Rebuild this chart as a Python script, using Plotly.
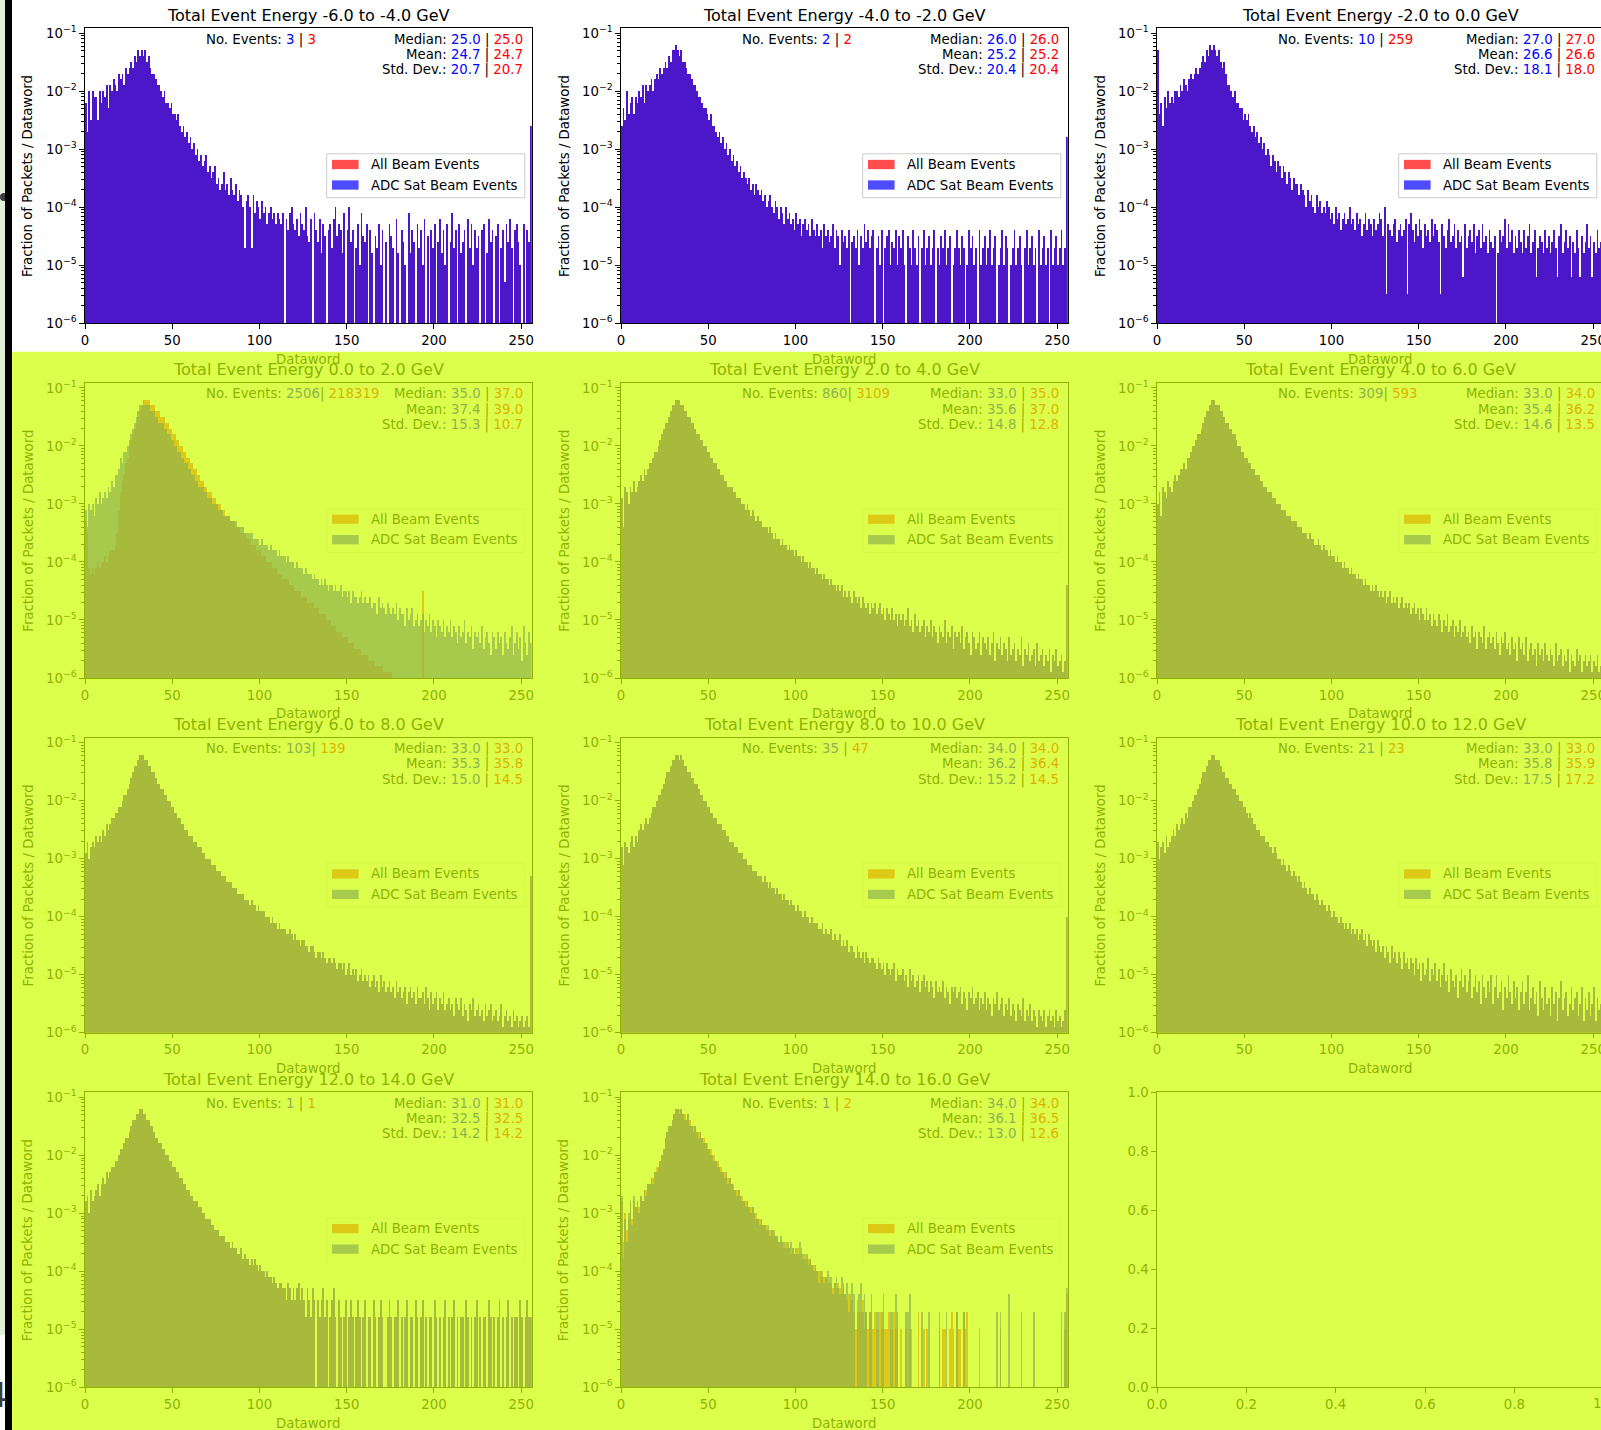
import plotly.graph_objects as go

W, H = 1601, 1430
FONT = "DejaVu Sans"

dataword_bins = list(range(256))

titles = ["Total Event Energy -6.0 to -4.0 GeV", "Total Event Energy -4.0 to -2.0 GeV",
          "Total Event Energy -2.0 to 0.0 GeV", "Total Event Energy 0.0 to 2.0 GeV",
          "Total Event Energy 2.0 to 4.0 GeV", "Total Event Energy 4.0 to 6.0 GeV",
          "Total Event Energy 6.0 to 8.0 GeV", "Total Event Energy 8.0 to 10.0 GeV",
          "Total Event Energy 10.0 to 12.0 GeV", "Total Event Energy 12.0 to 14.0 GeV",
          "Total Event Energy 14.0 to 16.0 GeV"]
n_events_adc = ["3", "2", "10", "2506", "860", "309", "103", "35", "21", "1", "1"]
n_events_all = ["3", "2", "259", "218319", "3109", "593", "139", "47", "23", "1", "2"]
median_adc = [25.0, 26.0, 27.0, 35.0, 33.0, 33.0, 33.0, 34.0, 33.0, 31.0, 34.0]
median_all = [25.0, 26.0, 27.0, 37.0, 35.0, 34.0, 33.0, 34.0, 33.0, 31.0, 34.0]
mean_adc = [24.7, 25.2, 26.6, 37.4, 35.6, 35.4, 35.3, 36.2, 35.8, 32.5, 36.1]
mean_all = [24.7, 25.2, 26.6, 39.0, 37.0, 36.2, 35.8, 36.4, 35.9, 32.5, 36.5]
std_adc = [20.7, 20.4, 18.1, 15.3, 14.8, 14.6, 15.0, 15.2, 17.5, 14.2, 13.0]
std_all = [20.7, 20.4, 18.0, 10.7, 12.8, 13.5, 14.5, 14.5, 17.2, 14.2, 12.6]
legend_labels = ["All Beam Events", "ADC Sat Beam Events"]
x_ticks = [0, 50, 100, 150, 200, 250]
y_decades = [-6, -5, -4, -3, -2, -1]

# Bar heights, stored as 10*log10(fraction of packets / dataword); None = empty bin
h_m6_m4 = [
 -22,-27,-20,-25,-20,-21,-21,-25,-20,-22,-20,-21,-19,-23,-19,-20,
 -18,-19,-20,-17,-18,-17,-19,-16,-17,-16,-15,-16,-14,-15,-13,-14,
 -13,-14,-13,-15,-14,-16,-17,-17,-18,-19,-19,-20,-21,-20,-22,-22,
 -23,-22,-24,-24,-25,-24,-26,-27,-26,-28,-27,-29,-28,-30,-29,-31,
 -30,-32,-31,-33,-32,-31,-34,-33,-35,-34,-33,-36,-35,-37,-36,-34,
 -37,-36,-38,-35,-37,-38,-36,-39,-37,-38,-40,-47,-39,-38,-40,-47,
 -38,-41,-39,-40,-42,-39,-41,-40,-43,-41,-40,-42,-41,-43,-41,-42,
 -43,-41,None,-42,-44,-41,-40,-43,-44,-42,-45,-41,-43,-44,-40,-45,
 -46,-42,None,-41,-44,-46,-42,-48,-43,-45,None,-44,-43,-47,-42,-40,
 -45,-43,-44,-48,-41,None,-44,-40,-46,-44,None,-47,-43,-50,-41,-45,
 -46,-43,None,-44,-48,None,-45,-47,-43,-50,-44,None,-46,None,-43,-45,
 -47,None,-42,-48,None,-44,-46,-50,None,-41,-48,-44,-46,None,-43,-47,
 -44,-50,-42,None,-45,None,-44,-47,-43,None,-46,-42,-48,-44,-50,-43,
 None,-46,-41,-47,-44,None,-43,-48,-46,-44,None,-42,-47,-43,-50,-44,
 -47,-45,None,-44,-43,None,-48,-42,-46,-44,None,-45,-43,None,-47,-44,
 -53,-43,-46,-42,-47,None,-44,-43,-46,-50,None,-43,None,-44,-46,-26]

h_m4_m2 = [
 -26,-23,-25,-20,-24,-22,-21,-24,-21,-22,-20,-21,-19,-22,-19,-20,
 -19,-18,-20,-18,-17,-18,-16,-17,-16,-15,-16,-14,-15,-13,-13,-12,
 -13,-14,-13,-15,-15,-16,-17,-17,-18,-19,-19,-20,-21,-21,-22,-23,
 -23,-24,-25,-24,-26,-26,-27,-28,-27,-29,-28,-30,-29,-31,-30,-32,
 -31,-33,-32,-34,-33,-35,-34,-35,-36,-35,-37,-36,-38,-36,-37,-38,
 -37,-39,-38,-40,-39,-38,-40,-41,-39,-40,-42,-40,-41,-43,-40,-42,
 -41,-43,-42,-44,-41,-43,-42,-45,-43,-42,-44,-43,-45,-42,-44,-45,
 -43,-45,-44,-47,-43,-45,-44,-46,-45,-43,-47,-44,-45,-50,-44,-46,
 -45,-47,-44,None,-46,-45,-47,-44,-50,-45,-47,-43,-46,-44,-47,-45,
 -44,None,-47,-45,-50,-44,None,-47,-45,-44,-50,-46,-47,-44,-50,-45,
 -47,-44,-50,None,-45,-47,-50,-44,-47,-50,-45,None,-47,-44,-50,-47,
 -45,-50,-47,-44,None,-47,-50,-45,-47,-44,-50,-47,-45,None,-50,-47,
 -44,-47,-50,-45,-47,None,-50,-44,-47,-45,-50,-47,None,-44,-50,-47,
 -45,-50,-47,-44,-50,-47,-45,None,-50,-47,-44,-50,-45,-47,None,-50,
 -47,-44,-50,-47,-45,-50,None,-47,-44,-50,-47,-45,-50,-47,None,-44,
 -50,-47,-45,-50,-47,None,-44,-50,-47,-45,-50,-47,-44,-50,-47,-28]

h_m2_0 = [
 -13,-24,-22,-26,-21,-23,-20,-22,-21,-22,-20,-20,-21,-19,-20,-18,
 -19,-20,-18,-17,-18,-17,-16,-17,-16,-15,-14,-15,-13,-14,-12,-13,
 -12,-13,-14,-13,-15,-16,-15,-17,-19,-19,-20,-21,-20,-22,-22,-23,
 -23,-25,-24,-25,-24,-26,-27,-26,-28,-27,-29,-28,-30,-29,-31,-30,
 -31,-33,-31,-32,-34,-32,-33,-35,-33,-34,-36,-34,-35,-37,-35,-36,
 -36,-38,-36,-37,-38,-40,-37,-39,-38,-40,-41,-38,-40,-39,-41,-40,
 -41,-39,-40,-42,-41,-43,-40,-42,-41,-44,-42,-41,-43,-42,-40,-43,
 -42,-44,-41,-43,-42,-45,-43,-41,-44,-42,-43,-45,-42,-44,-43,-41,
 -42,-45,-40,-55,-43,-44,-45,-43,-42,-46,-44,-43,-45,-44,-42,-55,
 -43,-41,-44,-46,-43,-45,-42,-44,-47,-43,-45,-44,-46,-42,-45,-43,
 -44,-46,-55,-43,-45,-47,-44,-42,-46,-45,-43,-47,-44,-46,-45,-52,
 -43,-47,-45,-44,-46,-43,-48,-45,-44,-47,-43,-46,-45,-48,-44,-46,
 -47,-45,None,-48,-44,-46,-45,-42,-47,-43,-46,-44,-48,-45,-47,-44,
 -46,-48,-44,-47,-45,-43,-48,-46,-44,-52,-47,-45,-46,-48,-44,-47,
 -45,-48,-46,-44,-47,-52,-45,-43,-48,-46,-44,-47,-45,-52,-46,-48,
 -44,-47,-52,-45,-48,-46,-43,-47,-45,-52,-46,-48,-44,-47,-46,-45]

h_0_2_all = [
 -33,-35,-41,-42,-41,-42,-41,-40,-41,-40,-40,-39,-40,-39,-38,-38,
 -38,-37,-35,-31,-28,-26,-25,-23,-22,-20,-19,-18,-17,-16,-15,-14,
 -13,-13,-12,-12,-12,-13,-13,-13,-14,-14,-14,-15,-15,-15,-16,-16,
 -17,-17,-18,-18,-19,-19,-20,-20,-21,-21,-22,-22,-23,-23,-24,-24,
 -25,-25,-26,-26,-27,-27,-28,-28,-28,-29,-29,-30,-30,-30,-31,-31,
 -32,-32,-32,-33,-33,-33,-34,-34,-34,-35,-35,-35,-36,-36,-36,-37,
 -37,-37,-38,-38,-38,-39,-39,-39,-40,-40,-40,-41,-41,-41,-42,-42,
 -42,-43,-43,-43,-43,-44,-44,-44,-45,-45,-45,-45,-46,-46,-46,-47,
 -47,-47,-47,-48,-48,-48,-49,-49,-49,-49,-50,-50,-50,-51,-51,-51,
 -52,-52,-52,-53,-53,-53,-53,-54,-54,-54,-55,-55,-55,-55,-56,-56,
 -56,-56,-57,-57,-57,-57,-58,-58,-58,-58,-58,-59,-59,-59,-59,-59,
 None,None,None,None,None,None,None,None,None,None,None,None,None,None,None,None,
 None,-45,None,None,None,None,None,None,None,None,None,None,None,None,None,None,
 None,None,None,None,None,None,None,None,None,None,None,None,None,None,None,None,
 None,None,None,None,None,None,None,None,None,None,None,None,None,None,None,None,
 None,None,None,None,None,None,None,None,None,None,None,None,None,None,None,None]

h_0_2_adc = [
 -31,-34,-30,-31,-30,-32,-29,-30,-28,-30,-29,-28,-29,-27,-28,-26,
 -27,-25,-25,-24,-22,-23,-21,-21,-20,-19,-18,-17,-16,-15,-14,-13,
 -13,-12,-13,-13,-13,-14,-14,-14,-15,-15,-16,-16,-16,-17,-17,-18,
 -18,-19,-19,-20,-20,-21,-21,-22,-22,-23,-23,-24,-24,-25,-25,-26,
 -26,-27,-27,-27,-28,-28,-29,-29,-29,-30,-30,-30,-31,-31,-31,-32,
 -32,-32,-32,-33,-33,-33,-33,-34,-34,-34,-34,-35,-35,-35,-35,-35,
 -36,-36,-36,-36,-37,-36,-37,-37,-37,-38,-37,-38,-38,-38,-39,-38,
 -39,-39,-39,-40,-39,-40,-40,-40,-41,-40,-41,-41,-41,-42,-41,-42,
 -42,-42,-43,-42,-43,-43,-44,-43,-44,-43,-44,-45,-44,-44,-45,-44,
 -45,-45,-44,-46,-45,-45,-46,-45,-47,-45,-46,-46,-47,-46,-45,-47,
 -46,-47,-47,-46,-48,-47,-47,-49,-46,-48,-47,-48,-49,-47,-48,-49,
 -48,-49,-47,-50,-48,-49,-49,-51,-48,-50,-49,-48,-51,-50,-49,-51,
 -50,-49,-52,-50,-51,-49,-52,-50,-51,-53,-50,-51,-52,-50,-53,-51,
 -52,-50,-53,-51,-52,-54,-51,-53,-52,-50,-54,-52,-53,-51,-55,-52,
 -53,-52,-54,-51,-55,-53,-52,-54,-56,-52,-53,-55,-52,-54,-53,-56,
 -52,-54,-55,-53,-51,-56,-54,-52,-55,-53,-57,-51,-54,-56,-52,-54]

h_2_4 = [
 -29,-34,-27,-28,-30,-27,-28,-26,-28,-27,-26,-25,-26,-24,-25,-24,
 -23,-23,-22,-21,-21,-20,-19,-18,-17,-16,-16,-15,-14,-13,-13,-12,
 -12,-12,-13,-13,-14,-14,-15,-15,-16,-16,-17,-18,-18,-19,-19,-20,
 -20,-21,-21,-22,-22,-23,-23,-24,-24,-25,-25,-26,-26,-27,-27,-27,
 -28,-28,-29,-29,-29,-30,-30,-31,-30,-31,-32,-31,-32,-33,-32,-33,
 -33,-34,-34,-34,-35,-34,-35,-36,-35,-36,-36,-37,-36,-37,-37,-38,
 -37,-38,-38,-39,-38,-39,-39,-40,-39,-40,-40,-41,-40,-41,-41,-42,
 -41,-42,-42,-43,-42,-43,-43,-44,-43,-44,-44,-45,-44,-45,-44,-46,
 -45,-46,-45,-46,-47,-45,-46,-47,-46,-48,-46,-47,-48,-47,-49,-47,
 -48,-47,-49,-48,-47,-49,-48,-50,-48,-49,-50,-48,-50,-49,-51,-49,
 -50,-49,-51,-50,-48,-51,-50,-52,-49,-51,-50,-52,-51,-50,-53,-51,
 -52,-50,-53,-51,-52,-54,-51,-52,-53,-50,-54,-52,-53,-51,-55,-52,
 -53,-52,-54,-51,-55,-53,-52,-54,-56,-52,-53,-55,-54,-52,-56,-53,
 -54,-55,-53,-56,-54,-52,-57,-54,-55,-53,-56,-54,-55,-57,-53,-56,
 -55,-54,-57,-55,-56,-53,-58,-55,-56,-54,-57,-56,-55,-58,-54,-57,
 -56,-55,-58,-56,-57,-55,-59,-56,-57,-55,-58,-57,-56,-59,-57,-44]

h_4_6 = [
 -30,-28,-32,-27,-28,-29,-26,-27,-28,-26,-25,-26,-25,-24,-24,-23,
 -24,-22,-22,-21,-20,-20,-19,-18,-18,-17,-16,-15,-14,-14,-13,-12,
 -12,-13,-13,-13,-14,-14,-15,-16,-16,-17,-17,-18,-18,-19,-20,-20,
 -21,-21,-22,-22,-23,-23,-24,-24,-25,-25,-25,-26,-26,-27,-27,-28,
 -28,-28,-29,-29,-30,-30,-30,-31,-31,-31,-32,-32,-32,-33,-33,-33,
 -34,-34,-34,-35,-35,-35,-36,-35,-36,-36,-37,-37,-36,-37,-38,-37,
 -38,-38,-39,-38,-39,-39,-40,-39,-40,-40,-41,-40,-41,-41,-42,-41,
 -42,-42,-43,-42,-43,-43,-44,-43,-44,-44,-45,-44,-45,-44,-45,-46,
 -45,-46,-45,-47,-46,-45,-47,-46,-47,-46,-48,-47,-46,-48,-47,-48,
 -47,-49,-48,-47,-49,-48,-50,-48,-49,-50,-48,-50,-49,-51,-49,-50,
 -51,-49,-50,-52,-50,-51,-49,-52,-51,-50,-53,-51,-52,-50,-53,-52,
 -51,-53,-52,-54,-51,-53,-52,-55,-52,-53,-54,-51,-55,-53,-52,-54,
 -53,-55,-52,-54,-56,-53,-54,-52,-55,-54,-56,-53,-55,-54,-57,-53,
 -55,-54,-56,-53,-57,-55,-54,-56,-55,-58,-54,-56,-55,-57,-54,-56,
 -57,-55,-56,-58,-54,-57,-56,-55,-58,-56,-57,-55,-59,-56,-57,-58,
 -55,-57,-56,-59,-57,-56,-58,-57,-56,-59,-57,-58,-56,-59,-58,-57]

h_6_8 = [
 -29,-27,-30,-28,-27,-28,-26,-27,-26,-27,-25,-26,-24,-25,-24,-23,
 -23,-22,-22,-21,-21,-20,-19,-19,-18,-17,-16,-15,-14,-14,-13,-12,
 -12,-12,-13,-13,-14,-14,-15,-15,-16,-17,-17,-18,-18,-19,-19,-20,
 -20,-21,-21,-22,-22,-23,-23,-24,-24,-25,-25,-26,-26,-26,-27,-27,
 -28,-28,-28,-29,-29,-30,-30,-30,-31,-31,-31,-32,-32,-32,-33,-33,
 -33,-34,-34,-34,-35,-35,-35,-36,-36,-36,-36,-37,-37,-37,-38,-37,
 -38,-38,-39,-38,-39,-39,-39,-40,-40,-40,-41,-40,-41,-41,-42,-41,
 -42,-42,-42,-43,-43,-42,-43,-44,-43,-44,-44,-45,-44,-44,-45,-45,
 -46,-45,-45,-46,-47,-46,-46,-47,-46,-47,-48,-47,-47,-48,-47,-48,
 -49,-48,-48,-49,-48,-50,-49,-48,-50,-49,-50,-49,-51,-50,-49,-51,
 -50,-51,-50,-52,-51,-50,-52,-51,-53,-50,-52,-51,-53,-52,-51,-53,
 -52,-54,-51,-53,-52,-54,-53,-52,-55,-53,-52,-54,-53,-55,-52,-54,
 -54,-53,-55,-52,-54,-56,-53,-55,-54,-53,-56,-54,-55,-53,-56,-55,
 -54,-56,-55,-57,-54,-55,-56,-54,-57,-55,-56,-58,-55,-56,-54,-57,
 -56,-55,-57,-56,-58,-55,-57,-56,-55,-58,-57,-56,-58,-57,-55,-59,
 -57,-56,-58,-57,-59,-56,-58,-57,-59,-58,-57,-59,-58,-57,-59,-33]

h_8_10 = [
 -28,-31,-27,-28,-29,-27,-26,-28,-26,-27,-25,-24,-25,-24,-23,-24,
 -23,-22,-21,-21,-20,-19,-19,-18,-17,-16,-15,-15,-14,-13,-13,-12,
 -12,-13,-12,-13,-14,-14,-15,-15,-16,-16,-17,-17,-18,-19,-19,-20,
 -20,-21,-21,-22,-22,-23,-23,-24,-24,-24,-25,-25,-26,-26,-27,-27,
 -27,-28,-28,-29,-29,-29,-30,-30,-31,-31,-31,-32,-32,-32,-33,-33,
 -33,-34,-33,-34,-35,-34,-35,-35,-36,-35,-36,-36,-37,-36,-37,-37,
 -38,-37,-38,-38,-39,-38,-39,-39,-40,-39,-40,-40,-41,-40,-41,-41,
 -41,-42,-42,-41,-43,-42,-43,-43,-42,-44,-43,-44,-44,-43,-45,-44,
 -45,-44,-46,-45,-45,-46,-47,-45,-46,-47,-46,-48,-46,-47,-48,-47,
 -47,-48,-49,-47,-48,-49,-48,-50,-48,-49,-50,-49,-48,-51,-49,-50,
 -50,-49,-51,-50,-52,-49,-51,-50,-52,-51,-50,-53,-51,-50,-52,-51,
 -53,-51,-52,-54,-51,-53,-52,-53,-51,-54,-52,-53,-55,-52,-53,-52,
 -54,-53,-52,-55,-53,-54,-56,-53,-54,-52,-55,-54,-53,-56,-54,-55,
 -53,-56,-54,-55,-57,-54,-55,-53,-56,-55,-54,-57,-55,-56,-54,-57,
 -55,-56,-58,-55,-56,-57,-54,-58,-56,-57,-55,-58,-56,-57,-59,-56,
 -57,-58,-56,-59,-57,-56,-58,-57,-59,-56,-58,-57,-59,-58,-56,-40]

h_10_12 = [
 -27,-30,-28,-27,-29,-26,-28,-27,-26,-25,-26,-24,-25,-24,-23,-24,
 -22,-23,-21,-21,-20,-19,-19,-18,-17,-16,-15,-15,-14,-13,-13,-12,
 -12,-13,-13,-13,-14,-15,-15,-16,-16,-17,-17,-18,-18,-19,-19,-20,
 -20,-21,-21,-22,-23,-22,-23,-24,-24,-25,-25,-26,-26,-26,-27,-27,
 -28,-28,-29,-28,-29,-30,-30,-31,-30,-31,-32,-31,-32,-33,-32,-33,
 -34,-33,-34,-35,-34,-35,-36,-35,-36,-36,-37,-36,-37,-38,-37,-38,
 -38,-39,-38,-39,-40,-39,-40,-40,-41,-40,-41,-42,-41,-42,-41,-43,
 -42,-43,-42,-44,-43,-42,-44,-43,-45,-43,-44,-45,-44,-46,-44,-45,
 -46,-45,-47,-45,-46,-48,-45,-47,-46,-48,-46,-47,-49,-46,-48,-47,
 -49,-47,-48,-50,-47,-49,-48,-51,-48,-50,-49,-47,-51,-49,-50,-48,
 -51,-49,-52,-50,-48,-51,-50,-53,-49,-51,-52,-50,-54,-51,-49,-52,
 -50,-53,-51,-49,-54,-52,-50,-53,-51,-55,-50,-52,-54,-51,-53,-50,
 -55,-52,-50,-54,-53,-51,-56,-52,-54,-50,-53,-55,-51,-54,-52,-56,
 -53,-51,-55,-53,-50,-56,-54,-52,-55,-53,-57,-51,-54,-56,-52,-55,
 -54,-57,-52,-55,-53,-58,-54,-51,-56,-54,-53,-57,-55,-52,-56,-54,
 -53,-57,-55,-52,-58,-54,-56,-53,-57,-55,-52,-58,-54,-56,-55,-50]

h_12_14 = [
 -28,-27,-30,-26,-28,-27,-26,-25,-27,-25,-24,-25,-23,-24,-23,-22,
 -22,-21,-21,-20,-19,-19,-18,-17,-17,-16,-15,-14,-14,-13,-13,-12,
 -12,-13,-13,-14,-14,-15,-15,-16,-17,-17,-18,-18,-19,-19,-20,-20,
 -21,-21,-22,-22,-23,-23,-24,-24,-25,-25,-26,-26,-27,-27,-28,-28,
 -28,-29,-29,-30,-30,-31,-31,-31,-32,-32,-33,-33,-33,-34,-34,-34,
 -35,-35,-35,-36,-35,-36,-36,-37,-37,-36,-38,-37,-38,-38,-39,-38,
 -39,-38,-39,-40,-39,-40,-40,-41,-40,-41,-41,-42,-41,-42,-43,-42,
 -42,-43,-43,-45,-42,-43,-45,-43,-45,-43,-42,-45,-43,-45,-48,-43,
 -45,-48,-43,-45,None,-45,-48,-45,-43,-48,-45,None,-48,-45,-43,-48,
 None,-45,-48,None,-48,-45,None,-48,-45,-48,None,-48,-45,-48,None,-48,
 -45,None,-48,-48,None,-45,-48,None,-48,-45,-48,None,None,-48,-45,-48,
 None,-48,-48,-45,None,-48,None,-48,-45,None,-48,-48,None,-45,-48,None,
 -48,-45,None,-48,None,-48,-48,None,-45,-48,None,-48,None,-48,-45,None,
 -48,None,-48,-45,None,-48,None,-48,-48,None,-45,-48,None,-48,None,-48,
 -45,None,-48,None,-48,-48,None,-45,-48,None,-48,None,-48,-45,None,-48,
 None,-48,-45,None,-48,None,-48,-48,None,-45,-48,None,-48,-45,-48,-48]

h_14_16_all = [
 -28,-35,-30,-33,-31,-28,-31,-28,-29,-28,-29,-27,-28,-26,-26,-25,
 -25,-24,-24,-23,-22,-22,-21,-20,-19,-17,-16,-15,-15,-14,-13,-12,
 -12,-12,-12,-13,-13,-14,-13,-14,-15,-15,-15,-16,-16,-16,-17,-17,
 -18,-18,-19,-19,-20,-20,-21,-21,-22,-22,-23,-23,-23,-24,-24,-25,
 -25,-26,-26,-26,-27,-27,-28,-28,-28,-29,-29,-29,-30,-30,-31,-31,
 -31,-32,-32,-32,-33,-33,-33,-34,-34,-34,-35,-35,-35,-36,-35,-36,
 -36,-37,-36,-37,-37,-36,-37,-37,-38,-37,-38,-38,-38,-39,-39,-39,
 -40,-40,-41,-40,-41,-41,-42,-41,-42,-43,-42,-43,-42,-43,-44,-43,
 -44,-45,-44,-45,-45,-47,-50,-45,-47,-47,-45,-50,-47,-50,-47,-47,
 -50,-47,-50,-50,-47,-50,-47,-50,-50,-47,-50,-50,-47,-50,-47,None,
 -50,None,None,-50,None,-50,-50,None,None,None,-47,None,None,-50,None,-50,
 None,None,None,None,None,None,-50,None,-50,-50,None,None,-50,-47,-50,None,
 -47,-50,-50,None,-47,-50,-47,None,None,None,None,None,None,-50,None,None,
 None,None,None,None,None,None,None,None,None,-50,None,None,None,None,None,None,
 None,None,None,None,None,None,None,None,None,None,None,None,None,None,None,None,
 None,None,None,None,None,None,None,None,None,None,None,None,None,None,-50,-44]

h_14_16_adc = [
 -27,-38,-31,-35,-30,-28,-32,-27,-29,-28,-30,-27,-28,-26,-27,-25,
 -25,-24,-25,-23,-23,-22,-21,-20,-19,-17,-16,-15,-15,-14,-13,-12,
 -12,-13,-12,-13,-14,-14,-13,-15,-15,-16,-15,-16,-17,-16,-17,-18,
 -18,-19,-19,-20,-20,-21,-21,-22,-22,-23,-23,-24,-23,-25,-24,-25,
 -26,-26,-27,-26,-27,-28,-28,-29,-28,-29,-30,-29,-30,-31,-31,-32,
 -31,-32,-32,-33,-32,-34,-33,-33,-34,-34,-35,-34,-35,-35,-36,-35,
 -36,-35,-36,-37,-36,-37,-35,-36,-37,-38,-37,-39,-38,-39,-40,-39,
 -40,-42,-40,-41,-42,-41,-40,-42,-41,-44,-42,-41,-43,-44,-41,-42,
 -44,-42,-47,-44,-42,-44,None,-47,-44,-42,-47,-44,-47,None,-47,-44,
 None,None,-47,-47,None,-47,-44,None,None,None,-47,-47,None,-44,-47,None,
 None,None,None,-47,-47,-44,None,None,None,None,None,None,-47,None,None,None,
 -47,None,None,None,None,None,-47,None,None,None,-47,None,None,None,None,None,
 -47,None,None,None,-47,None,None,None,None,None,None,None,None,None,None,None,
 None,None,None,None,None,None,None,-47,None,-47,None,None,None,None,-44,None,
 None,None,None,None,None,-47,None,None,None,None,None,None,-47,None,None,None,
 None,None,None,None,None,None,None,None,None,None,None,None,-47,None,-47,-43]

# (All Beam Events, ADC Sat Beam Events) per panel
panel_all = [h_m6_m4, h_m4_m2, h_m2_0, h_0_2_all, h_2_4, h_4_6, h_6_8, h_8_10, h_10_12, h_12_14, h_14_16_all]
panel_adc = [h_m6_m4, h_m4_m2, h_m2_0, h_0_2_adc, h_2_4, h_4_6, h_6_8, h_8_10, h_10_12, h_12_14, h_14_16_adc]

# ---------------- layout geometry (pixels) ----------------
COL_L = [85.0, 621.0, 1157.0]
ROW_T = [28.3, 383.0, 737.7, 1092.4]
AX_W, AX_H = 446.7, 295.0
YTOP = -0.915
OVER_Y = 351.7


def P(x):
    return x / W


def Q(y):
    return 1 - y / H


def frac(v):
    return None if v is None else 10 ** (v / 10.0)


TOP = dict(txt="#000000", blue="#0000ff", red="#ff0000", bar_all="rgba(255,0,0,0.7)",
           bar_adc="rgba(0,0,255,0.7)", p_all="rgb(255,77,77)", p_adc="rgb(77,77,255)",
           lfill="rgba(255,255,255,0.8)", ledge="#cccccc")
OVR = dict(txt="rgb(143,178,0)", blue="rgb(143,178,77)", red="rgb(220,178,0)",
           bar_all="rgba(220,179,0,0.7)", bar_adc="rgba(144,179,77,0.7)",
           p_all="rgb(220,202,23)", p_adc="rgb(167,202,77)",
           lfill="rgba(220,255,76,0.8)", ledge="rgb(212,245,70)")

fig = go.Figure()
shapes = []
annotations = []
layout_axes = {}

# background pieces (left edge of the screenshot and the yellow highlight)
shapes.append(dict(type="rect", xref="paper", yref="paper", x0=0, x1=P(5), y0=Q(1335), y1=1,
                   fillcolor="#e2efda", line=dict(width=0), layer="below"))
shapes.append(dict(type="rect", xref="paper", yref="paper", x0=P(12), x1=1, y0=0, y1=Q(OVER_Y),
                   fillcolor="rgb(220,255,76)", line=dict(width=0), layer="below"))
shapes.append(dict(type="circle", xref="paper", yref="paper", x0=P(0), x1=P(8), y0=Q(201), y1=Q(193),
                   fillcolor="#3a3a3a", line=dict(width=0), layer="below"))
annotations.append(dict(text="4", x=P(10), y=Q(1395), xref="paper", yref="paper", xanchor="right",
                        yanchor="middle", showarrow=False, font=dict(family=FONT, size=34, color="#3c3c3c")))
shapes.append(dict(type="rect", xref="paper", yref="paper", x0=P(5), x1=P(12), y0=0, y1=1,
                   fillcolor="#000000", line=dict(width=0), layer="above"))

minor_vals = [m * 10 ** e for e in range(-6, -1) for m in range(2, 10)]

for k in range(12):
    r, c = divmod(k, 3)
    L, T = COL_L[c], ROW_T[r]
    sty = TOP if r == 0 else OVR
    sfx = "" if k == 0 else str(k + 1)
    xr = min(L + AX_W, W)
    vis = (xr - L) / AX_W
    empty = (k == 11)
    xa = dict(domain=[P(L), P(xr)], anchor="y" + sfx, showgrid=False, zeroline=False,
              showline=True, linecolor=sty["txt"], linewidth=1, mirror=True,
              ticks="outside", ticklen=4.7, tickwidth=1, tickcolor=sty["txt"], automargin=False,
              tickfont=dict(family=FONT, size=13.3, color=sty["txt"]), ticklabeloverflow="allow")
    ya = dict(domain=[Q(T + AX_H), Q(T)], anchor="x" + sfx, showgrid=False, zeroline=False,
              showline=True, linecolor=sty["txt"], linewidth=1, mirror=(c != 2),
              ticks="outside", ticklen=4.7, tickwidth=1, tickcolor=sty["txt"], automargin=False,
              tickfont=dict(family=FONT, size=13.3, color=sty["txt"]))
    if empty:
        xa.update(range=[0, 1.0 * vis], tickmode="array", tickvals=[0, 0.2, 0.4, 0.6, 0.8],
                  ticktext=["0.0", "0.2", "0.4", "0.6", "0.8"])
        ya.update(range=[0, 1], tickmode="array", tickvals=[0, 0.2, 0.4, 0.6, 0.8, 1.0],
                  ticktext=["0.0", "0.2", "0.4", "0.6", "0.8", "1.0"])
        annotations.append(dict(text="1.0", x=P(L + AX_W), y=Q(T + AX_H + 16), xref="paper", yref="paper",
                                xanchor="center", yanchor="middle", showarrow=False,
                                font=dict(family=FONT, size=13.3, color=sty["txt"])))
        fig.add_trace(go.Scatter(x=[], y=[], xaxis="x" + sfx, yaxis="y" + sfx, showlegend=False))
        layout_axes["xaxis" + sfx] = xa
        layout_axes["yaxis" + sfx] = ya
        continue

    xa.update(range=[0, 256 * vis], tickmode="array", tickvals=x_ticks, ticktext=[str(t) for t in x_ticks])
    ya.update(type="log", range=[-6, YTOP], tickmode="array", tickvals=[10 ** d for d in y_decades],
              ticktext=["10<sup>\u2212%d</sup>" % (-d) for d in y_decades],
              minor=dict(tickmode="array", tickvals=minor_vals, ticks="outside", ticklen=2.7,
                         tickwidth=0.8, tickcolor=sty["txt"], showgrid=False))
    layout_axes["xaxis" + sfx] = xa
    layout_axes["yaxis" + sfx] = ya

    for vals, col, nm in ((panel_all[k], sty["bar_all"], legend_labels[0]),
                          (panel_adc[k], sty["bar_adc"], legend_labels[1])):
        fig.add_trace(go.Bar(x=[b + 0.5 for b in dataword_bins[:len(vals)]], y=[frac(v) for v in vals],
                             width=1, marker=dict(color=col, line=dict(width=0)), name=nm,
                             xaxis="x" + sfx, yaxis="y" + sfx, showlegend=False))

    # title
    annotations.append(dict(text=titles[k], x=P(L + AX_W / 2), y=Q(T - 13.3), xref="paper", yref="paper",
                            xanchor="center", yanchor="middle", showarrow=False,
                            font=dict(family=FONT, size=16, color=sty["txt"])))
    # axis labels
    xl_y = T + AX_H + 35.7
    xl_col = TOP["txt"] if xl_y < OVER_Y else OVR["txt"]
    annotations.append(dict(text="Dataword", x=P(L + AX_W / 2), y=Q(xl_y), xref="paper", yref="paper",
                            xanchor="center", yanchor="middle", showarrow=False,
                            font=dict(family=FONT, size=13.3, color=xl_col)))
    annotations.append(dict(text="Fraction of Packets / Dataword", x=P(L - 56.7), y=Q(T + AX_H / 2),
                            xref="paper", yref="paper", xanchor="center", yanchor="middle",
                            textangle=-90, showarrow=False,
                            font=dict(family=FONT, size=13.3, color=sty["txt"])))

    # stats text
    def span(v, colr):
        return "<span style='color:%s'>%s</span>" % (colr, v)
    sep = " | " if len(n_events_adc[k]) <= 2 else "| "
    annotations.append(dict(text="No. Events: " + span(n_events_adc[k], sty["blue"]) + sep +
                            span(n_events_all[k], sty["red"]),
                            x=P(L + 119.3), y=Q(T + 11.4), xref="paper", yref="paper",
                            xanchor="left", yanchor="middle", showarrow=False,
                            font=dict(family=FONT, size=13.3, color=sty["txt"])))
    for i, (lab, a, b) in enumerate((("Median: ", median_adc[k], median_all[k]),
                                     ("Mean: ", mean_adc[k], mean_all[k]),
                                     ("Std. Dev.: ", std_adc[k], std_all[k]))):
        annotations.append(dict(text=lab + span("%.1f" % a, sty["blue"]) + " | " + span("%.1f" % b, sty["red"]),
                                x=P(L + 440), y=Q(T + 11.4 + 15.3 * i), xref="paper", yref="paper",
                                xanchor="right", yanchor="middle", showarrow=False,
                                font=dict(family=FONT, size=13.3, color=sty["txt"])))
    # legend (drawn)
    shapes.append(dict(type="rect", xref="paper", yref="paper", x0=P(L + 241.7), x1=P(L + 439.8),
                       y0=Q(T + 169.5), y1=Q(T + 125.5), fillcolor=sty["lfill"],
                       line=dict(color=sty["ledge"], width=1), layer="above"))
    for j, (lab, pc) in enumerate(((legend_labels[0], sty["p_all"]), (legend_labels[1], sty["p_adc"]))):
        cy = T + 136.2 + 20.5 * j
        shapes.append(dict(type="rect", xref="paper", yref="paper", x0=P(L + 247), x1=P(L + 273.6),
                           y0=Q(cy + 4.65), y1=Q(cy - 4.65), fillcolor=pc, line=dict(width=0), layer="above"))
        annotations.append(dict(text=lab, x=P(L + 284.3), y=Q(cy), xref="paper", yref="paper",
                                xanchor="left", yanchor="middle", showarrow=False,
                                font=dict(family=FONT, size=13.3, color=sty["txt"])))

fig.update_layout(width=W, height=H, margin=dict(l=0, r=0, t=0, b=0, pad=0, autoexpand=False),
                  paper_bgcolor="white", plot_bgcolor="rgba(0,0,0,0)",
                  barmode="overlay", bargap=0, showlegend=False,
                  shapes=shapes, annotations=annotations, **layout_axes)

fig.write_html("out.html")
